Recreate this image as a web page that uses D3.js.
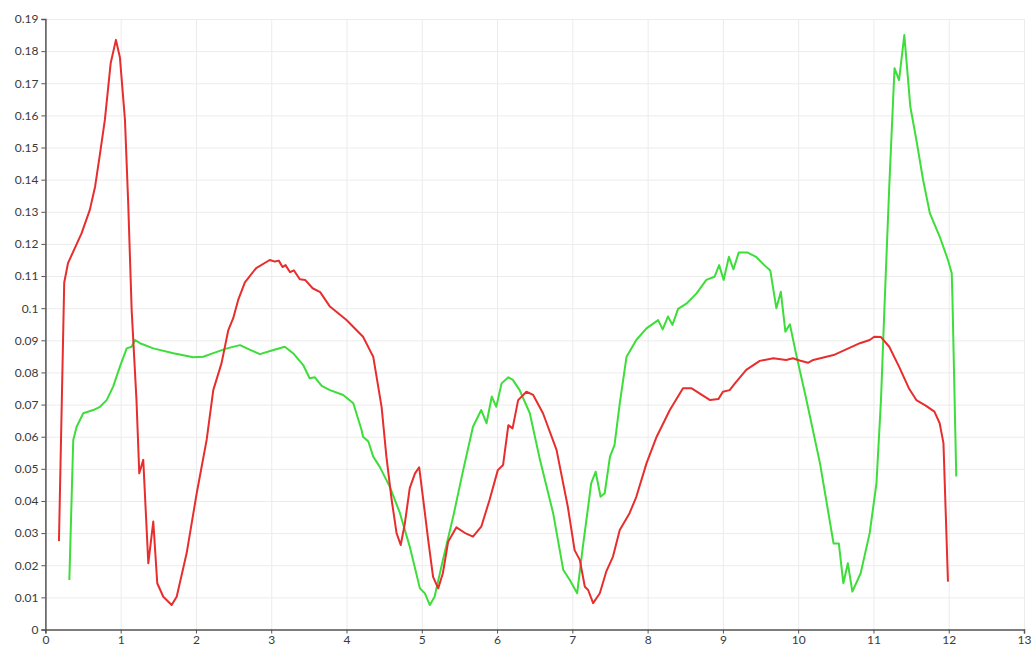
<!DOCTYPE html>
<html>
<head>
<meta charset="utf-8">
<script src="https://cdn.jsdelivr.net/npm/d3@7"></script>
<style>
  html, body { margin: 0; padding: 0; background: #fff; }
  svg { display: block; }
  .tick text { font-family: "Lato", "DejaVu Sans", sans-serif; fill: #3a3a3a; }
</style>
</head>
<body>
<svg id="chart"></svg>
<script>
// ── Data ──
const xTicks = d3.range(0, 14);
const yTicks = d3.range(0, 20).map((i) => i / 100);

const redSeries = [
  [0.18, 0.0275], [0.25, 0.108], [0.30, 0.114], [0.48, 0.1233], [0.59, 0.1306],
  [0.66, 0.1378], [0.725, 0.148], [0.79, 0.1586], [0.867, 0.1762], [0.937, 0.1835],
  [0.99, 0.178], [1.057, 0.1586], [1.10, 0.1327], [1.146, 0.0994], [1.21, 0.0714],
  [1.247, 0.0486], [1.30, 0.0528], [1.367, 0.0206], [1.433, 0.0336], [1.486, 0.0144],
  [1.566, 0.0102], [1.677, 0.0076], [1.744, 0.0102], [1.876, 0.0237], [2.01, 0.0424],
  [2.142, 0.059], [2.23, 0.0745], [2.34, 0.0829], [2.43, 0.0932], [2.495, 0.0969],
  [2.56, 0.1025], [2.65, 0.108], [2.8, 0.1125], [2.98, 0.115], [3.05, 0.1145],
  [3.1, 0.1148], [3.15, 0.1128], [3.19, 0.1134], [3.25, 0.1112], [3.3, 0.1118],
  [3.38, 0.109], [3.45, 0.1088], [3.55, 0.1062], [3.65, 0.105], [3.78, 0.1005],
  [4.0, 0.0963], [4.22, 0.0911], [4.33, 0.086], [4.355, 0.0849], [4.466, 0.0693],
  [4.53, 0.0538], [4.6, 0.0403], [4.665, 0.03], [4.72, 0.0263], [4.775, 0.033],
  [4.84, 0.044], [4.91, 0.0486], [4.965, 0.0505], [5.02, 0.0403], [5.085, 0.0279],
  [5.15, 0.0164], [5.218, 0.0128], [5.28, 0.0175], [5.35, 0.0273], [5.46, 0.0318],
  [5.57, 0.0301], [5.68, 0.0289], [5.79, 0.032], [5.9, 0.0403], [6.01, 0.0496],
  [6.08, 0.0512], [6.15, 0.0636], [6.206, 0.0626], [6.28, 0.0714], [6.39, 0.074],
  [6.48, 0.073], [6.61, 0.0673], [6.79, 0.0559], [6.94, 0.0382], [7.03, 0.0247],
  [7.1, 0.0216], [7.166, 0.0133], [7.21, 0.0123], [7.276, 0.0082], [7.365, 0.0113],
  [7.45, 0.018], [7.54, 0.0227], [7.63, 0.031], [7.76, 0.0362], [7.85, 0.0413],
  [7.985, 0.0517], [8.12, 0.06], [8.295, 0.0683], [8.47, 0.0751], [8.58, 0.0751],
  [8.83, 0.0714], [8.94, 0.0717], [9.0, 0.074], [9.09, 0.0745], [9.16, 0.0766],
  [9.31, 0.0808], [9.49, 0.0836], [9.67, 0.0844], [9.84, 0.0839], [9.93, 0.0844],
  [10.02, 0.0837], [10.13, 0.083], [10.2, 0.0839], [10.47, 0.0854], [10.82, 0.0891],
  [10.95, 0.0901], [11.01, 0.0911], [11.1, 0.091], [11.21, 0.088], [11.34, 0.0818],
  [11.47, 0.0751], [11.57, 0.0714], [11.7, 0.0696], [11.81, 0.0678], [11.88, 0.0642],
  [11.93, 0.058], [11.99, 0.0149]
];

const greenSeries = [
  [0.318, 0.0154], [0.37, 0.059], [0.415, 0.0631], [0.503, 0.0673], [0.636, 0.0683],
  [0.725, 0.0693], [0.814, 0.0714], [0.90, 0.0756], [0.99, 0.0818], [1.08, 0.0875],
  [1.146, 0.088], [1.19, 0.0901], [1.256, 0.0891], [1.433, 0.0875], [1.7, 0.086],
  [1.964, 0.0847], [2.097, 0.0849], [2.23, 0.086], [2.41, 0.0875], [2.585, 0.0885],
  [2.72, 0.087], [2.85, 0.0857], [3.03, 0.087], [3.18, 0.088], [3.29, 0.086],
  [3.425, 0.0823], [3.51, 0.0782], [3.58, 0.0785], [3.67, 0.0758], [3.78, 0.0745],
  [3.956, 0.073], [4.09, 0.0704], [4.2, 0.0621], [4.22, 0.06], [4.29, 0.0585],
  [4.355, 0.0538], [4.44, 0.0507], [4.576, 0.0444], [4.71, 0.0362], [4.84, 0.0258],
  [4.975, 0.0128], [5.04, 0.0113], [5.107, 0.0076], [5.17, 0.0102], [5.28, 0.0216],
  [5.417, 0.0351], [5.55, 0.0496], [5.68, 0.0631], [5.79, 0.0683], [5.86, 0.0642],
  [5.93, 0.0725], [5.99, 0.0693], [6.06, 0.0766], [6.15, 0.0785], [6.21, 0.0777],
  [6.3, 0.0745], [6.435, 0.0673], [6.57, 0.0528], [6.745, 0.0362], [6.88, 0.0185],
  [6.966, 0.0154], [7.064, 0.0113], [7.14, 0.0258], [7.21, 0.0382], [7.25, 0.0455],
  [7.31, 0.0491], [7.375, 0.0413], [7.43, 0.0424], [7.5, 0.0538], [7.56, 0.0574],
  [7.63, 0.0704], [7.72, 0.0849], [7.85, 0.0901], [7.985, 0.0937], [8.14, 0.0963],
  [8.2, 0.0934], [8.27, 0.0974], [8.33, 0.0948], [8.405, 0.0998], [8.52, 0.1015],
  [8.65, 0.1046], [8.78, 0.1088], [8.89, 0.1098], [8.95, 0.1134], [9.01, 0.1088],
  [9.08, 0.116], [9.14, 0.1121], [9.21, 0.1173], [9.33, 0.1173], [9.44, 0.116],
  [9.55, 0.1134], [9.63, 0.1117], [9.71, 0.1], [9.77, 0.1051], [9.83, 0.0927],
  [9.89, 0.095], [9.97, 0.086], [10.1, 0.0725], [10.29, 0.0517], [10.47, 0.0268],
  [10.54, 0.0268], [10.6, 0.0144], [10.66, 0.0206], [10.72, 0.0118], [10.83, 0.0175],
  [10.95, 0.03], [11.04, 0.0455], [11.1, 0.0714], [11.15, 0.1025], [11.21, 0.1378],
  [11.28, 0.1747], [11.34, 0.171], [11.41, 0.185], [11.49, 0.1627], [11.57, 0.1524],
  [11.66, 0.1399], [11.75, 0.1295], [11.88, 0.1223], [11.99, 0.115], [12.04, 0.1109],
  [12.05, 0.1025], [12.1, 0.0476]
];

// ── Layout ──
const width = 1033;
const height = 650;
const margin = { top: 19, right: 9, bottom: 20.5, left: 45.4 };

const svg = d3.select("#chart").attr("width", width).attr("height", height);

const x = d3.scaleLinear().domain([0, 13]).range([margin.left, width - margin.right]);
const y = d3.scaleLinear().domain([0, 0.19]).range([height - margin.bottom, margin.top]);

// ── Gridlines ──
svg.append("g")
  .attr("transform", `translate(${margin.left},0)`)
  .call(d3.axisLeft(y).tickValues(yTicks).tickSize(-(width - margin.left - margin.right)).tickFormat(""))
  .call((g) => g.select(".domain").remove())
  .call((g) => g.selectAll(".tick line").attr("stroke", "#ececec"));

svg.append("g")
  .attr("transform", `translate(0,${height - margin.bottom})`)
  .call(d3.axisBottom(x).tickValues(xTicks).tickSize(-(height - margin.top - margin.bottom)).tickFormat(""))
  .call((g) => g.select(".domain").remove())
  .call((g) => g.selectAll(".tick line").attr("stroke", "#ececec"));

// ── Lines ──
const line = d3.line().x((d) => x(d[0])).y((d) => y(d[1]));

svg.append("path")
  .datum(greenSeries)
  .attr("fill", "none")
  .attr("stroke", "#3ddd3a")
  .attr("stroke-width", 2)
  .attr("stroke-linejoin", "round")
  .attr("d", line);

svg.append("path")
  .datum(redSeries)
  .attr("fill", "none")
  .attr("stroke", "#e82d2d")
  .attr("stroke-width", 2)
  .attr("stroke-linejoin", "round")
  .attr("d", line);

// ── Axes ──
const fmt = (d) => String(+d.toFixed(2));

svg.append("g")
  .attr("transform", `translate(${margin.left},0)`)
  .call(d3.axisLeft(y).tickValues(yTicks).tickSize(4).tickPadding(3).tickFormat(fmt))
  .call((g) => g.select(".domain").attr("stroke", "#555").attr("stroke-width", 1.5))
  .call((g) => g.selectAll(".tick line").attr("stroke", "#555"))
  .call((g) => g.selectAll("text").attr("font-size", 12));

svg.append("g")
  .attr("transform", `translate(0,${height - margin.bottom})`)
  .call(d3.axisBottom(x).tickValues(xTicks).tickSize(4).tickPadding(2).tickFormat(d3.format("d")))
  .call((g) => g.select(".domain").attr("stroke", "#555").attr("stroke-width", 1.5))
  .call((g) => g.selectAll(".tick line").attr("stroke", "#555"))
  .call((g) => g.selectAll("text").attr("font-size", 12));
</script>
</body>
</html>
